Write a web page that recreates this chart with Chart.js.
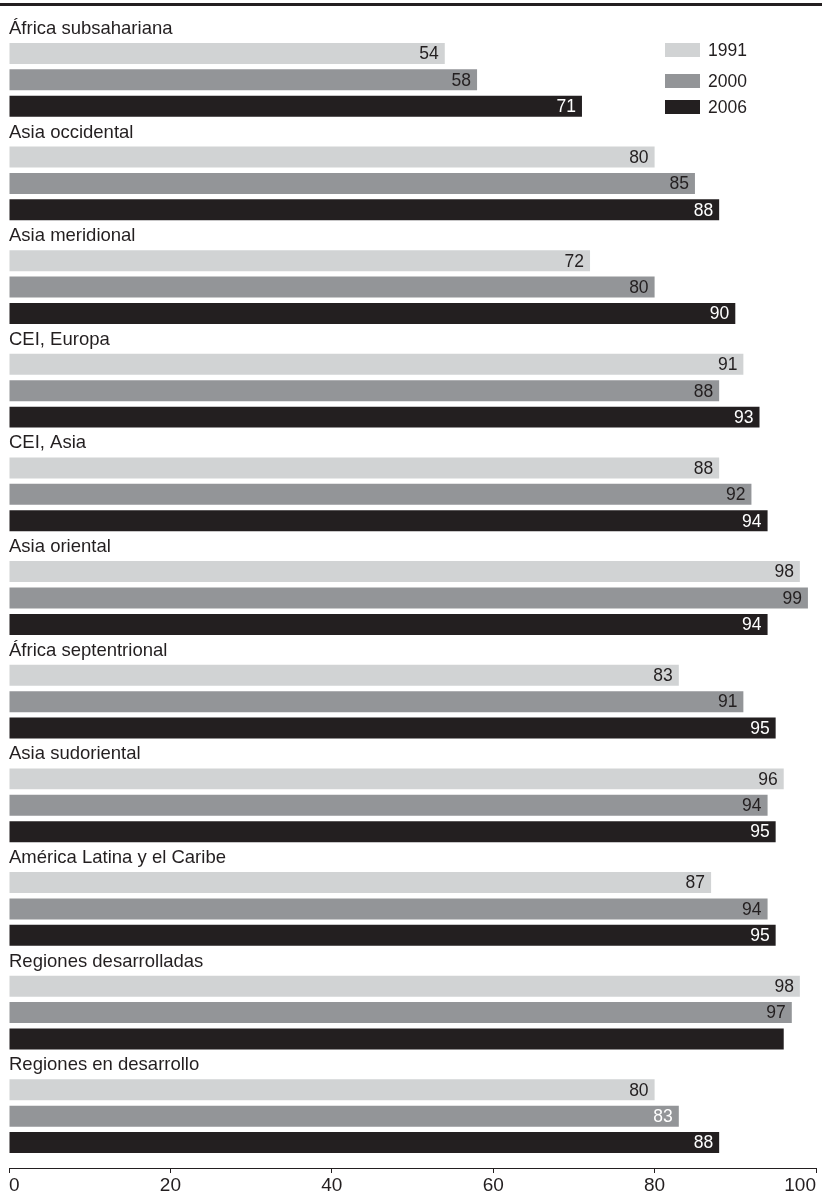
<!DOCTYPE html>
<html lang="es">
<head>
<meta charset="utf-8">
<title>Regiones</title>
<script src="https://cdn.jsdelivr.net/npm/chart.js@4/dist/chart.umd.min.js"></script>
<style>
    html, body { margin: 0; padding: 0; background: #ffffff; }
    #wrap { position: relative; width: 822px; height: 1196px; }
</style>
</head>
<body>
<div id="wrap"><canvas id="regionChart" width="822" height="1196"></canvas></div>
<script>
(function() {
    'use strict';

    var regiones = [
        'África subsahariana',
        'Asia occidental',
        'Asia meridional',
        'CEI, Europa',
        'CEI, Asia',
        'Asia oriental',
        'África septentrional',
        'Asia sudoriental',
        'América Latina y el Caribe',
        'Regiones desarrolladas',
        'Regiones en desarrollo'
    ];
    var anios = ['1991', '2000', '2006'];
    var valores1991 = [54, 80, 72, 91, 88, 98, 83, 96, 87, 98, 80];
    var valores2000 = [58, 85, 80, 88, 92, 99, 91, 94, 94, 97, 83];
    var valores2006 = [71, 88, 90, 93, 94, 94, 95, 95, 95, 96, 88];
    var ticksX = [0, 20, 40, 60, 80, 100];

    var NEGRO = '#231f20';
    var FUENTE = '"Liberation Sans", Arial, Helvetica, sans-serif';

    Chart.defaults.font.family = FUENTE;
    Chart.defaults.font.size = 17.5;
    Chart.defaults.color = NEGRO;

    // color del número dentro de cada barra (el 83 de 2000 va en blanco)
    var colorEtiqueta2000 = valores2000.map(function(v, i) {
        return i === regiones.length - 1 ? '#ffffff' : NEGRO;
    });
    // la barra 2006 de regiones desarrolladas no lleva número
    var sinEtiqueta2006 = [9];

    var lineaSuperior = {
        id: 'lineaSuperior',
        beforeDraw: function(chart) {
            var ctx = chart.ctx;
            ctx.save();
            ctx.fillStyle = NEGRO;
            ctx.fillRect(0, 3, chart.width, 3);
            ctx.restore();
        }
    };

    var rotulos = {
        id: 'rotulos',
        afterDatasetsDraw: function(chart) {
            var ctx = chart.ctx;
            var area = chart.chartArea;
            ctx.save();

            // nombre de la región encima de cada grupo
            var primera = chart.getDatasetMeta(0);
            ctx.font = '18.5px ' + FUENTE;
            ctx.textAlign = 'left';
            ctx.textBaseline = 'alphabetic';
            ctx.fillStyle = NEGRO;
            primera.data.forEach(function(bar, i) {
                var top = bar.y - bar.height / 2;
                ctx.fillText(regiones[i], area.left, top - 9);
            });

            // valor al final de cada barra
            ctx.font = '17.5px ' + FUENTE;
            ctx.textAlign = 'right';
            ctx.textBaseline = 'middle';
            chart.data.datasets.forEach(function(ds, d) {
                var meta = chart.getDatasetMeta(d);
                meta.data.forEach(function(bar, i) {
                    if (d === 2 && sinEtiqueta2006.indexOf(i) !== -1) {
                        return;
                    }
                    ctx.fillStyle = ds.etiquetaColor[i];
                    ctx.fillText(String(ds.data[i]), bar.x - 6, bar.y + 1);
                });
            });
            ctx.restore();
        }
    };

    var leyenda = {
        id: 'leyenda',
        afterDraw: function(chart) {
            var ctx = chart.ctx;
            var filas = [43, 74, 100];
            ctx.save();
            ctx.font = '17.5px ' + FUENTE;
            ctx.textAlign = 'left';
            ctx.textBaseline = 'alphabetic';
            chart.data.datasets.forEach(function(ds, d) {
                ctx.fillStyle = ds.backgroundColor;
                ctx.fillRect(665, filas[d], 35, 14);
                ctx.fillStyle = NEGRO;
                ctx.fillText(ds.label, 708, filas[d] + 13);
            });
            ctx.restore();
        }
    };

    var ctx = document.getElementById('regionChart').getContext('2d');
    new Chart(ctx, {
        type: 'bar',
        data: {
            labels: regiones,
            datasets: [
                {
                    label: anios[0],
                    data: valores1991,
                    backgroundColor: '#d1d3d4',
                    etiquetaColor: valores1991.map(function() { return NEGRO; })
                },
                {
                    label: anios[1],
                    data: valores2000,
                    backgroundColor: '#939598',
                    etiquetaColor: colorEtiqueta2000
                },
                {
                    label: anios[2],
                    data: valores2006,
                    backgroundColor: NEGRO,
                    etiquetaColor: valores2006.map(function() { return '#ffffff'; })
                }
            ]
        },
        options: {
            indexAxis: 'y',
            responsive: false,
            animation: false,
            devicePixelRatio: 1,
            categoryPercentage: 0.764,
            barPercentage: 0.795,
            layout: {
                padding: { top: 28, left: 9, right: 6, bottom: 0 }
            },
            plugins: {
                legend: { display: false },
                tooltip: { enabled: false }
            },
            scales: {
                y: {
                    display: false
                },
                x: {
                    min: 0,
                    max: 100,
                    afterBuildTicks: function(scale) {
                        scale.ticks = ticksX.map(function(v) { return { value: v }; });
                    },
                    afterFit: function(scale) {
                        scale.height = 28;
                    },
                    border: { display: true, color: NEGRO, width: 1 },
                    grid: {
                        drawOnChartArea: false,
                        drawTicks: true,
                        tickLength: 5,
                        color: NEGRO
                    },
                    ticks: {
                        align: 'inner',
                        padding: 1,
                        color: NEGRO,
                        font: { size: 19 }
                    }
                }
            }
        },
        plugins: [lineaSuperior, rotulos, leyenda]
    });
})();
</script>
</body>
</html>
